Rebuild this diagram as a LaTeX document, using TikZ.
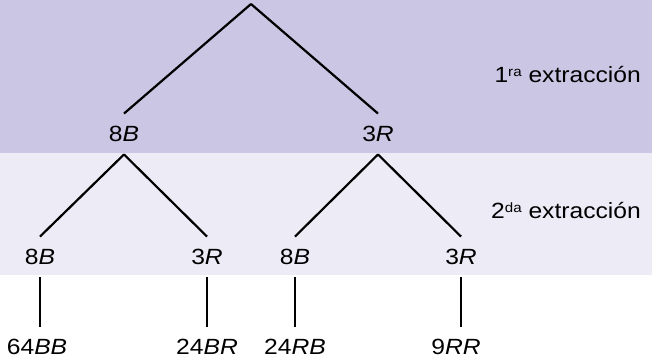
\documentclass[tikz,border=0pt]{standalone}
\usepackage{fontspec}
\setmainfont{Liberation Sans}[FakeStretch=1.12]
\definecolor{bandtop}{HTML}{CAC6E4}
\definecolor{bandmid}{HTML}{EDEBF6}
\newcommand{\ord}[2]{#1\raisebox{6.5pt}{\fontsize{13.5}{13.5}\selectfont #2}}
\begin{document}
\begin{tikzpicture}[x=1pt,y=-1pt,
  lbl/.style={font=\fontsize{22}{22}\selectfont, text height=15.5pt, text depth=0pt,
              inner xsep=0pt, inner ysep=12.5pt},
  stage/.style={font=\fontsize{22}{22}\selectfont, anchor=east, inner sep=0pt,
                text height=15.5pt, text depth=0pt},
  branch/.style={line width=2.2pt, black}]
\useasboundingbox (0,0) rectangle (652,362);
% background bands for the two draws
\fill[bandtop] (0,0) rectangle (652,153);
\fill[bandmid] (0,153) rectangle (652,275);

\coordinate (root) at (251,4);
\node[lbl] (b) at (124,134) {8\textit{B}};
\node[lbl] (r) at (378,134) {3\textit{R}};

\node[lbl] (bb) at (40,257) {8\textit{B}};
\node[lbl] (br) at (207,257) {3\textit{R}};
\node[lbl] (rb) at (295,257) {8\textit{B}};
\node[lbl] (rr) at (461,257) {3\textit{R}};

\node[lbl] (tbb) at (37,347) {64\textit{BB}};
\node[lbl] (tbr) at (207,347) {24\textit{BR}};
\node[lbl] (trb) at (295,347) {24\textit{RB}};
\node[lbl] (trr) at (456,347) {9\textit{RR}};

\node[stage] (s1) at (641,75) {\ord{1}{ra} extracción};
\node[stage] (s2) at (641,211) {\ord{2}{da} extracción};

\draw[branch] (root) -- (b.north);
\draw[branch] (root) -- (r.north);
\draw[branch] (b.south) -- (bb.north);
\draw[branch] (b.south) -- (br.north);
\draw[branch] (r.south) -- (rb.north);
\draw[branch] (r.south) -- (rr.north);
\draw[branch] (bb.south) -- (bb.south |- tbb.north);
\draw[branch] (br.south) -- (br.south |- tbr.north);
\draw[branch] (rb.south) -- (rb.south |- trb.north);
\draw[branch] (rr.south) -- (rr.south |- trr.north);
\end{tikzpicture}
\end{document}
